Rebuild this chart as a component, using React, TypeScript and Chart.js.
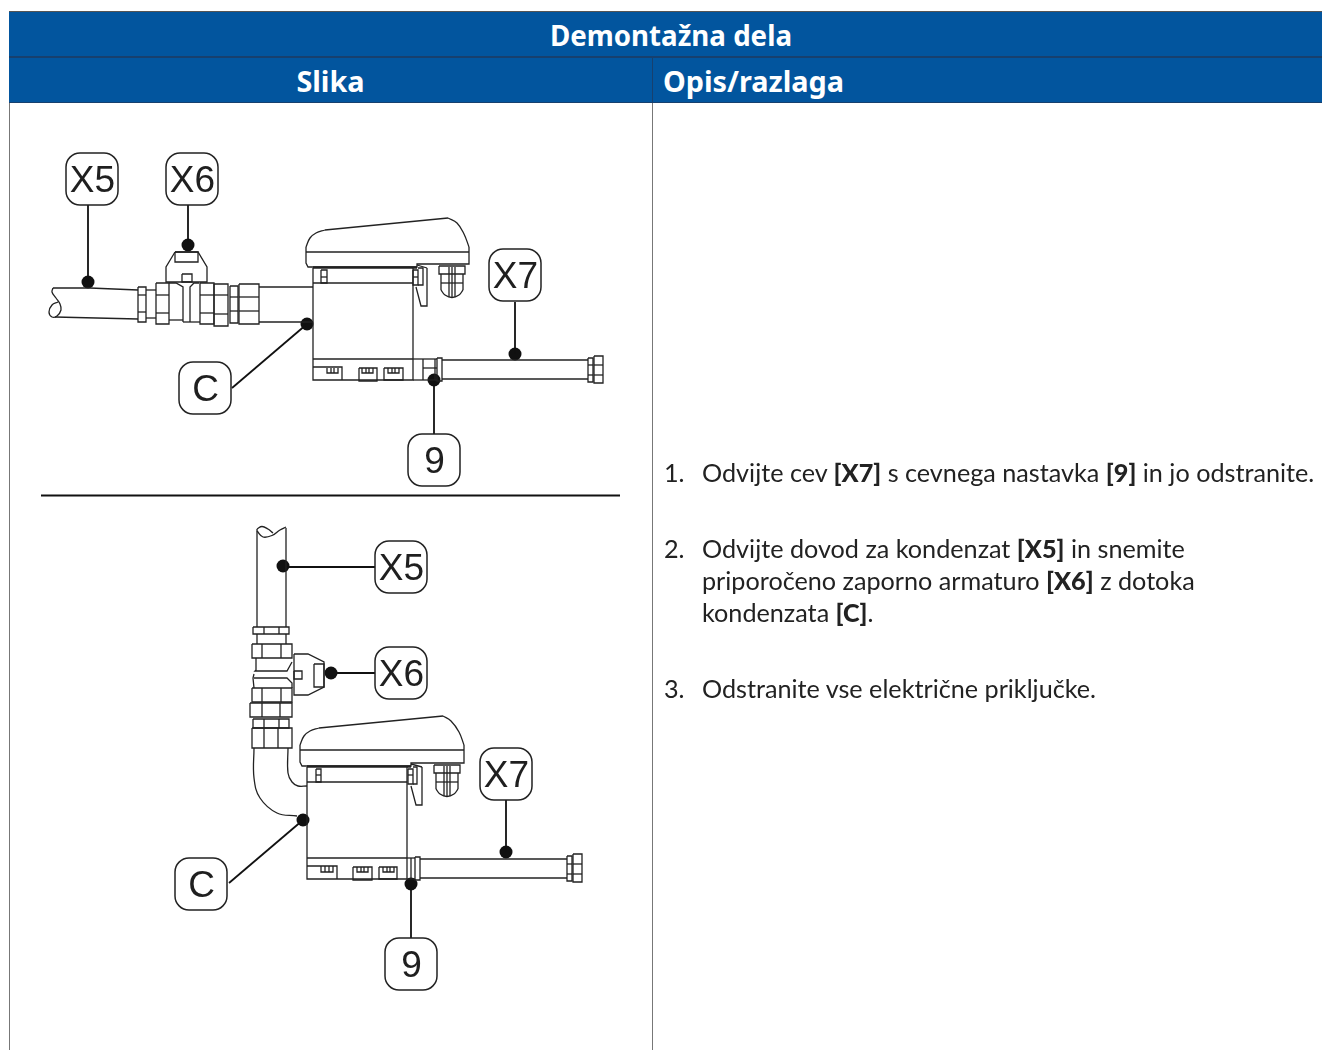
import React, { useEffect, useRef } from "react";
import { Chart, registerables } from "chart.js";

Chart.register(...registerables);

type Pt = number[];
type Poly = Pt[];

const rect = (x0: number, y0: number, x1: number, y1: number): Poly => [[x0, y0], [x1, y0], [x1, y1], [x0, y1], [x0, y0]];

// ---------- upper drawing ----------
const upperPipe: Poly[] = [
  [[53, 288], [90, 288], [138, 290]],
  [[55, 317], [138, 319]],
  [[146, 290], [156, 290]], [[146, 318], [156, 318]],
  [[259, 287], [313, 287]], [[259, 322], [313, 322]],
];
const upperPipeCurves: Poly[] = [
  [[53, 288], [52, 292], [56, 298], [60, 304], [61, 310], [57, 316], [52, 317], [49, 312], [52, 305], [58, 302]],
];
const upperFittings: Poly[] = [
  rect(138, 287, 146, 322), [[138, 295], [146, 295]], [[138, 312], [146, 312]],
  rect(156, 283, 169, 324), [[156, 295], [169, 295]], [[156, 313], [169, 313]],
  [[169, 283], [176, 283], [183, 287], [183, 322]], [[199, 283], [194, 283], [190, 287], [190, 322]],
  [[169, 320], [183, 320]], [[183, 322], [200, 322]],
  rect(200, 283, 214, 324), [[200, 295], [214, 295]], [[200, 313], [214, 313]],
  rect(214, 284, 228, 326), [[214, 295], [228, 295]], [[214, 314], [228, 314]],
  rect(230, 286, 238, 323), [[230, 297], [238, 297]], [[230, 311], [238, 311]],
  rect(239, 284, 259, 324), [[239, 297], [259, 297]], [[239, 311], [259, 311]],
];
const upperHandle: Poly[] = [
  [[175, 252], [198, 252], [207, 267], [207, 282], [166, 282], [166, 267], [175, 252]],
  rect(175, 252, 198, 262),
  rect(182, 274, 192, 282),
];
const upperCoverCurve: Poly[] = [
  [[306, 247], [310, 238], [316, 233], [325, 230]],
  [[448, 218], [457, 223], [464, 234], [469, 247]],
];
const upperDevice: Poly[] = [
  [[325, 230], [448, 218]],
  [[306, 247], [306, 263], [308, 267], [417, 267], [417, 264], [469, 264], [469, 247]],
  [[306, 252], [469, 252]],
  [[313, 268], [313, 380], [413, 380], [413, 268]],
  [[313, 283], [413, 283]],
  rect(321, 270, 327, 283), [[321, 277], [327, 277]],
  rect(413, 270, 418, 285), [[413, 277], [418, 277]],
  [[418, 268], [423, 268], [423, 285], [418, 285]],
  [[427, 268], [427, 306], [421, 306], [416, 287]],
  [[417, 265], [427, 268]],
  [[313, 359], [413, 359]],
  [[313, 367], [342, 367], [342, 380]],
  [[327, 368], [327, 373], [338, 373], [338, 368]], [[331, 368], [331, 373]], [[334, 368], [334, 373]],
  rect(359, 368, 377, 381),
  [[362, 368], [362, 373], [373, 373], [373, 368]], [[366, 368], [366, 373]], [[369, 368], [369, 373]],
  rect(384, 368, 403, 380),
  [[388, 368], [388, 373], [399, 373], [399, 368]], [[392, 368], [392, 373]], [[395, 368], [395, 373]],
  [[413, 359], [437, 359]], [[413, 380], [437, 380]], [[423, 359], [423, 380]], [[423, 368], [437, 368]], [[435, 359], [435, 380]],
];
const upperThick: Poly[] = [[[313, 267.5], [417, 267.5]]];
const upperGland: Poly[] = [
  rect(439, 266, 465, 274),
  [[441, 274], [441, 290]], [[463, 274], [463, 290]],
  [[441, 283], [463, 283]],
  [[449, 267], [449, 297]], [[452, 267], [452, 297]], [[455, 267], [455, 297]],
];
const upperGlandCurve: Poly[] = [[[441, 290], [445, 295], [452, 297.5], [459, 295], [463, 290]]];
const upperTube: Poly[] = [
  rect(437, 358, 442, 381),
  [[442, 360], [588, 360]], [[442, 379], [588, 379]],
  rect(588, 358, 593, 382), [[588, 365], [593, 365]], [[588, 375], [593, 375]],
  rect(594, 356, 603, 383), [[594, 365], [603, 365]], [[594, 375], [603, 375]],
];

// ---------- lower drawing ----------
const lowerPipe: Poly[] = [
  [[257, 529], [257, 627]], [[286, 528], [286, 627]],
  [[257, 634], [257, 644]], [[286, 634], [286, 644]],
];
const lowerPipeCurves: Poly[] = [
  [[257, 529], [262, 526.5], [268, 529], [273, 533]],
  [[257, 531], [263, 537], [272, 535.5], [280, 530], [286, 527]],
  [[254, 748], [254, 778], [260, 798], [277, 813], [297, 816]],
  [[288, 748], [288, 773], [292, 782], [298, 786], [307, 786]],
];
const lowerFittings: Poly[] = [
  rect(253, 627, 289, 634), [[264, 627], [264, 634]], [[279, 627], [279, 634]],
  rect(252, 644, 292, 658), [[262, 644], [262, 658]], [[281, 644], [281, 658]],
  [[256, 658], [256, 670], [255, 671], [287, 671], [292, 662]],
  [[254, 674], [253, 678], [254, 688]],
  [[254, 678], [287, 678], [292, 683], [292, 688]],
  rect(252, 688, 292, 702), [[262, 688], [262, 702]], [[281, 688], [281, 702]],
  rect(250, 703, 292, 717), [[262, 703], [262, 717]], [[280, 703], [280, 717]],
  rect(253, 719, 289, 728), [[264, 719], [264, 728]], [[279, 719], [279, 728]],
  rect(252, 728, 292, 748), [[264, 728], [264, 748]], [[278, 728], [278, 748]],
];
const lowerHandle: Poly[] = [
  [[294, 654], [308, 654], [324, 662], [324, 687], [308, 695], [294, 695], [294, 654]],
  rect(294, 671, 302, 679),
  rect(314, 664, 324, 687),
];
const lowerCoverCurve: Poly[] = [
  [[300, 745], [304, 736], [310, 731], [319, 728]],
  [[443, 716], [451, 721], [459, 732], [464, 745]],
];
const lowerDevice: Poly[] = [
  [[319, 728], [443, 716]],
  [[300, 745], [300, 762], [302, 766], [411, 766], [411, 763], [464, 763], [464, 745]],
  [[300, 750], [464, 750]],
  [[307, 767], [307, 879], [407, 879], [407, 767]],
  [[307, 782], [407, 782]],
  rect(316, 769, 321, 782), [[316, 775], [321, 775]],
  rect(408, 769, 413, 784), [[408, 775], [413, 775]],
  [[413, 767], [417, 767], [417, 784], [413, 784]],
  [[422, 767], [422, 805], [416, 805], [411, 786]],
  [[411, 764], [422, 767]],
  [[307, 858], [407, 858]],
  [[307, 866], [337, 866], [337, 879]],
  [[321, 866], [321, 872], [333, 872], [333, 866]], [[325, 866], [325, 872]], [[329, 866], [329, 872]],
  rect(353, 867, 372, 880),
  [[357, 867], [357, 872], [368, 872], [368, 867]], [[361, 867], [361, 872]], [[364, 867], [364, 872]],
  rect(379, 867, 397, 879),
  [[383, 867], [383, 872], [394, 872], [394, 867]], [[387, 867], [387, 872]], [[390, 867], [390, 872]],
  [[407, 858], [415, 858]], [[407, 879], [415, 879]], [[411, 858], [411, 879]],
];
const lowerThick: Poly[] = [[[307, 766.5], [411, 766.5]]];
const lowerGland: Poly[] = [
  rect(434, 765, 460, 773),
  [[436, 773], [436, 789]], [[458, 773], [458, 789]],
  [[436, 782], [458, 782]],
  [[444, 766], [444, 796]], [[447, 766], [447, 796]], [[450, 766], [450, 796]],
];
const lowerGlandCurve: Poly[] = [[[436, 789], [440, 794], [447, 796.5], [454, 794], [458, 789]]];
const lowerTube: Poly[] = [
  rect(415, 857, 420, 880),
  [[420, 859], [567, 859]], [[420, 878], [567, 878]],
  rect(567, 856, 572, 881), [[567, 864], [572, 864]], [[567, 874], [572, 874]],
  rect(573, 854, 582, 882), [[573, 864], [582, 864]], [[573, 874], [582, 874]],
];

// ---------- callouts ----------
const leaderLines: Poly[] = [
  [[88, 205], [88, 282]], [[188, 205], [188, 245]], [[232, 388], [307, 324]], [[515, 302], [515, 354]], [[434, 486], [434, 380]],
  [[283, 567], [375, 567]], [[331, 673], [375, 673]], [[229, 883], [303, 820]], [[506, 800], [506, 852]], [[411, 938], [411, 884]],
];
const leaderDots: Pt[] = [
  [88, 282], [188, 245], [307, 324], [515, 354], [434, 380],
  [283, 566], [331, 673], [303, 820], [506, 852], [411, 884],
];
const calloutNames = ["X5", "X6", "X7", "C", "9", "X5", "X6", "X7", "C", "9"];
const calloutX = [92, 192, 515, 205, 434, 401, 401, 506, 201, 411];
const calloutY = [179, 179, 275, 388, 460, 567, 673, 774, 884, 964];
const dividerLine: Poly = [[41, 495.5], [620, 495.5]];

// ---------- text ----------
const tableTitle = "Demontažna dela";
const columnHeads = ["Slika", "Opis/razlaga"];

const INK = "#222222";

const toData = (p: Poly) => p.map(([x, y]) => ({ x, y }));
const lineSet = (p: Poly, width: number, tension = 0, color = INK) => ({
  type: "scatter" as const,
  data: toData(p),
  showLine: true,
  borderColor: color,
  borderWidth: width,
  pointRadius: 0,
  tension,
  fill: false,
});

const calloutPlugin = {
  id: "callouts",
  afterDatasetsDraw(chart: any) {
    const { ctx, scales } = chart;
    ctx.save();
    calloutNames.forEach((name, i) => {
      const cx = scales.x.getPixelForValue(calloutX[i]);
      const cy = scales.y.getPixelForValue(calloutY[i]);
      ctx.beginPath();
      ctx.roundRect(cx - 26, cy - 26, 52, 52, 14);
      ctx.fillStyle = "#fff";
      ctx.fill();
      ctx.lineWidth = 1.5;
      ctx.strokeStyle = INK;
      ctx.stroke();
      ctx.fillStyle = "#1f1f1f";
      ctx.font = '37px "Liberation Sans"';
      ctx.textAlign = "center";
      ctx.textBaseline = "middle";
      ctx.fillText(name, cx + 0.5, cy + 2.5);
    });
    ctx.restore();
  },
};

const B = ({ children }: { children: React.ReactNode }) => <b style={{ fontWeight: 900 }}>{children}</b>;

const Line = ({ y, x, children }: { y: number; x: number; children: React.ReactNode }) => (
  <div style={{ position: "absolute", left: x, top: y - 17, height: 32, lineHeight: "32px", whiteSpace: "nowrap", fontFamily: "Lato", fontSize: 25.2, color: "#222" }}>
    {children}
  </div>
);

const headStyle: React.CSSProperties = {
  position: "absolute",
  color: "#fff",
  fontFamily: '"Noto Sans"',
  fontWeight: 700,
  fontSize: 28.8,
  lineHeight: "45px",
  whiteSpace: "nowrap",
};

export default function App() {
  const ref = useRef<HTMLCanvasElement>(null);
  useEffect(() => {
    const thin: Poly[] = [
      ...upperPipe, ...upperFittings, ...upperHandle, ...upperDevice, ...upperGland, ...upperTube,
      ...lowerPipe, ...lowerFittings, ...lowerHandle, ...lowerDevice, ...lowerGland, ...lowerTube,
    ];
    const curved: Poly[] = [...upperPipeCurves, ...upperCoverCurve, ...upperGlandCurve, ...lowerPipeCurves, ...lowerCoverCurve, ...lowerGlandCurve];
    const chart = new Chart(ref.current!, {
      type: "scatter",
      data: {
        datasets: [
          ...thin.map((p) => lineSet(p, 1.3)),
          ...curved.map((p) => lineSet(p, 1.3, 0.4)),
          ...[...upperThick, ...lowerThick].map((p) => lineSet(p, 2.4)),
          ...leaderLines.map((p) => lineSet(p, 1.8, 0, "#111")),
          lineSet(dividerLine, 2, 0, "#111"),
          {
            type: "scatter" as const,
            data: toData(leaderDots),
            showLine: false,
            pointRadius: 6.5,
            backgroundColor: "#111",
            borderWidth: 0,
          },
        ] as any,
      },
      options: {
        animation: false,
        responsive: false,
        layout: { padding: 0, autoPadding: false },
        plugins: { legend: { display: false }, tooltip: { enabled: false } },
        scales: {
          x: { type: "linear", min: 0, max: 1322, display: false },
          y: { type: "linear", min: 0, max: 1050, reverse: true, display: false },
        },
      },
      plugins: [calloutPlugin],
    });
    return () => chart.destroy();
  }, []);

  return (
    <div style={{ position: "fixed", inset: 0, width: 1322, height: 1050, overflow: "hidden", background: "#fff" }}>
      <div style={{ position: "absolute", left: 9, top: 11, width: 1313, height: 92, background: "#02559e", borderTop: "1px solid #555", boxSizing: "border-box" }} />
      <div style={{ position: "absolute", left: 9, top: 56, width: 1313, height: 2, background: "#17406e" }} />
      <div style={{ position: "absolute", left: 9, top: 102, width: 1313, height: 1, background: "#17406e" }} />
      <div style={{ position: "absolute", left: 652, top: 57, width: 1, height: 46, background: "#17406e" }} />
      <div style={{ position: "absolute", left: 9, top: 103, width: 1, height: 947, background: "#777" }} />
      <div style={{ position: "absolute", left: 652, top: 103, width: 1, height: 947, background: "#777" }} />
      <div style={{ ...headStyle, left: 550, top: 13, fontSize: 27.7 }}>{tableTitle}</div>
      <div style={{ ...headStyle, left: 9, width: 643, textAlign: "center", top: 58 }}>{columnHeads[0]}</div>
      <div style={{ ...headStyle, left: 663, top: 58 }}>{columnHeads[1]}</div>
      <canvas ref={ref} width={1322} height={1050} style={{ position: "absolute", left: 0, top: 0, display: "block" }} />
      <Line x={664} y={473}>1.</Line>
      <Line x={702} y={473}>Odvijte cev <B>[X7]</B> s cevnega nastavka <B>[9]</B> in jo odstranite.</Line>
      <Line x={664} y={549}>2.</Line>
      <Line x={702} y={549}>Odvijte dovod za kondenzat <B>[X5]</B> in snemite</Line>
      <Line x={702} y={581}>priporočeno zaporno armaturo <B>[X6]</B> z dotoka</Line>
      <Line x={702} y={613}>kondenzata <B>[C]</B>.</Line>
      <Line x={664} y={689}>3.</Line>
      <Line x={702} y={689}>Odstranite vse električne priključke.</Line>
    </div>
  );
}
